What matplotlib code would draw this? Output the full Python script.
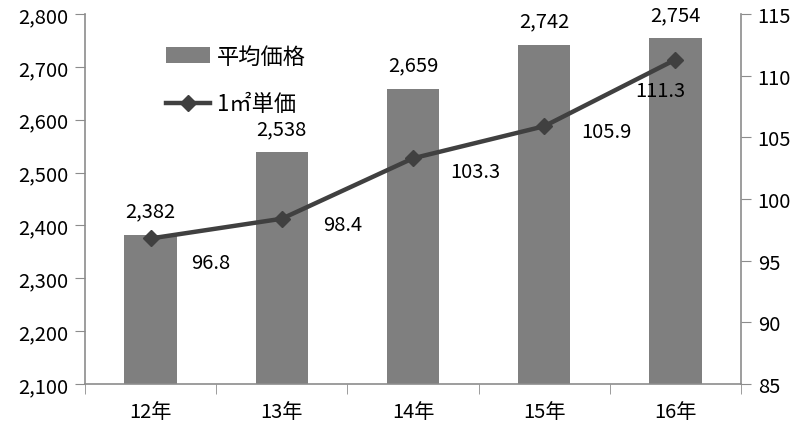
import matplotlib
matplotlib.use("Agg")
import matplotlib.pyplot as plt

plt.rcParams['font.family'] = ['Noto Sans CJK JP', 'DejaVu Sans']

years = ['12年', '13年', '14年', '15年', '16年']
avg_price = [2382, 2538, 2659, 2742, 2754]
unit_price = [96.8, 98.4, 103.3, 105.9, 111.3]
# pixel offsets of the line labels from their points, as placed in the original
unit_label_offsets = [(60, -24), (61, -6), (62, -13), (62, -5), (-15, -31)]

bar_color = '#7f7f7f'
line_color = '#404040'
spine_color = '#8c8c8c'

fig = plt.figure(figsize=(8.0, 4.27), dpi=100)
ax = fig.add_axes([85/800, 1-385/427, (741-85)/800, (385-15)/427])
ax2 = ax.twinx()

x = list(range(len(years)))
bars = ax.bar(x, avg_price, width=0.4, color=bar_color, zorder=2, label='平均価格')
ax.set_ylim(2100, 2800)
ax.set_yticks(range(2100, 2801, 100))
ax.set_yticklabels([f'{v:,}' for v in range(2100, 2801, 100)])
ax.set_xlim(-0.5, len(years) - 0.5)
ax.set_xticks(x)
ax.set_xticklabels(years)
ax.set_xticks([i - 0.5 for i in range(len(years) + 1)], minor=True)
ax.tick_params(axis='x', which='major', length=0, pad=12)
ax.tick_params(axis='x', which='minor', length=7, color=spine_color, direction='out')
ax.tick_params(axis='y', length=7, color=spine_color, pad=5)

for i, v in enumerate(avg_price):
    ax.annotate(f'{v:,}', (i, v), xytext=(0, 24), textcoords='offset pixels',
                ha='center', va='center', fontsize=14.5)

line, = ax2.plot(x, unit_price, color=line_color, lw=3.2, marker='D',
                 markersize=8, label='1㎡単価', zorder=3)
ax2.set_ylim(85, 115)
ax2.set_yticks(range(85, 116, 5))
ax2.tick_params(axis='y', length=7, color=spine_color, pad=5)

for i, v in enumerate(unit_price):
    dx, dy = unit_label_offsets[i]
    ax2.annotate(f'{v}', (i, v), xytext=(dx, dy), textcoords='offset pixels',
                 ha='center', va='center', fontsize=14.5)

for a in (ax, ax2):
    a.spines['top'].set_visible(False)
    for s in ('left', 'right', 'bottom'):
        a.spines[s].set_color(spine_color)
        a.spines[s].set_linewidth(1.2)
    a.tick_params(labelsize=14.5)
ax.spines['right'].set_visible(False)
ax2.spines['left'].set_visible(False)
ax2.spines['bottom'].set_visible(False)

ax2.legend([bars, line], ['平均価格', '1㎡単価'], loc='upper left',
           bbox_to_anchor=(146/800, 1-26/427), bbox_transform=fig.transFigure,
           frameon=False, fontsize=16, handlelength=2.0, labelspacing=1.1,
           handletextpad=0.3)

fig.savefig('out.png', dpi=100)
